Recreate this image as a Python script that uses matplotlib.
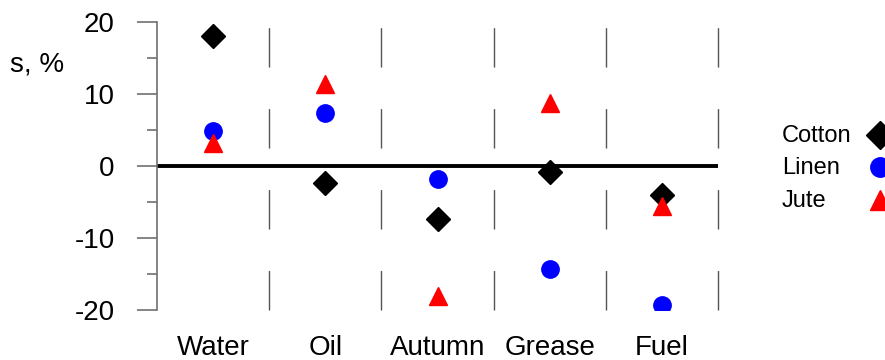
import matplotlib
matplotlib.use("Agg")
import matplotlib.pyplot as plt
from matplotlib.ticker import MultipleLocator

plt.rcParams['font.family'] = ['Liberation Sans', 'DejaVu Sans']
plt.rcParams['axes.unicode_minus'] = False

categories = ["Water", "Oil", "Autumn", "Grease", "Fuel"]
cotton = [18.1, -2.4, -7.4, -0.8, -4.0]
linen = [4.8, 7.3, -1.8, -14.3, -19.3]
jute = [3.2, 11.4, -18.1, 8.7, -5.5]
y_ticks = [-20, -10, 0, 10, 20]

series = [
    ("Cotton", cotton, "D", 12.5, "black"),
    ("Linen", linen, "o", 12.5, "#0000ff"),
    ("Jute", jute, "^", 13, "#ff0000"),
]

fig = plt.figure(figsize=(8.85, 3.60), dpi=100)
ax = fig.add_axes([157 / 885, 1 - 310 / 360, (718 - 157) / 885, (310 - 22) / 360])

x = list(range(1, len(categories) + 1))

# dashed separators between the groups
ax.vlines([i + 0.5 for i in x], -20, 20, colors="#555555", linewidth=1.0,
          linestyles=[(0, (28.4, 29.9))], zorder=1, clip_on=False)

# zero reference line
ax.axhline(0, color="black", linewidth=2.8, zorder=2)

for z, (name, vals, marker, size, color) in enumerate(series):
    ax.plot(x, vals, linestyle="none", marker=marker, markersize=size,
            color=color, label=name, zorder=3 + z)

ax.set_xlim(0.5, 5.5)
ax.set_ylim(-20, 20)
ax.set_xticks(x)
ax.set_xticklabels(categories)
ax.set_yticks(y_ticks)
ax.yaxis.set_minor_locator(MultipleLocator(5))

for side in ("top", "right", "bottom"):
    ax.spines[side].set_visible(False)
ax.spines["left"].set_color("#707070")
ax.spines["left"].set_linewidth(1.2)

ax.tick_params(axis="y", which="major", length=14.4, width=1.2, color="#707070",
               pad=16, labelsize=20)
ax.tick_params(axis="y", which="minor", length=7.2, width=1.2, color="#707070")
ax.tick_params(axis="x", length=0, pad=18, labelsize=20)

fig.text(10 / 885, 1 - 71.5 / 360, "s, %", fontsize=20, va="baseline", ha="left")

# legend: left-aligned names with the symbol to their right
row_y = [136, 168, 201]
for (name, vals, marker, size, color), ry in zip(series, row_y):
    yf = 1 - ry / 360
    fig.text(782 / 885, yf, name, fontsize=17, va="center", ha="left")
    fig.add_artist(plt.Line2D([880 / 885], [1 - (ry - 1) / 360],
                              transform=fig.transFigure, linestyle="none",
                              marker=marker, markersize=size + 1.5, color=color))

fig.savefig("out.png", dpi=100)
